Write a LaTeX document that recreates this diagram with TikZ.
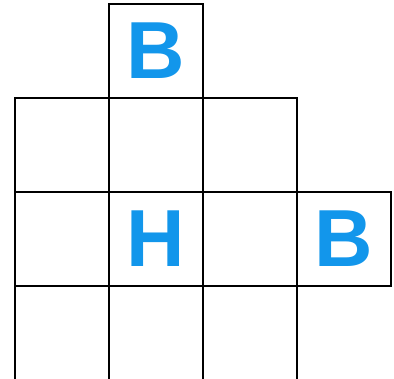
\documentclass[tikz,border=0pt]{standalone}
\usepackage{fontspec}
\setmainfont{Liberation Sans}
\usepackage{xcolor}
\definecolor{letterblue}{RGB}{18,150,235}

\begin{document}
\begin{tikzpicture}[x=2cm,y=-2cm]
	 \tikzstyle{cell}=[rectangle,draw,black,line width=1.2pt,minimum size=2cm,inner sep=0pt,outer sep=0pt]
	 \tikzstyle{letter}=[text=letterblue,font=\fontsize{49}{49}\selectfont\bfseries]
	 \clip (0,0) rectangle (4.191,4.021);
	 \node[cell,letter] (s01) at (1.66,0.543) {B};
	 \node[cell] (s10) at (0.66,1.543) {};
	 \node[cell] (s11) at (1.66,1.543) {};
	 \node[cell] (s12) at (2.66,1.543) {};
	 \node[cell] (s20) at (0.66,2.543) {};
	 \node[cell,letter] (s21) at (1.66,2.543) {H};
	 \node[cell] (s22) at (2.66,2.543) {};
	 \node[cell,letter] (s23) at (3.66,2.543) {B};
	 \node[cell] (s30) at (0.66,3.543) {};
	 \node[cell] (s31) at (1.66,3.543) {};
	 \node[cell] (s32) at (2.66,3.543) {};
 \end{tikzpicture}
\end{document}
